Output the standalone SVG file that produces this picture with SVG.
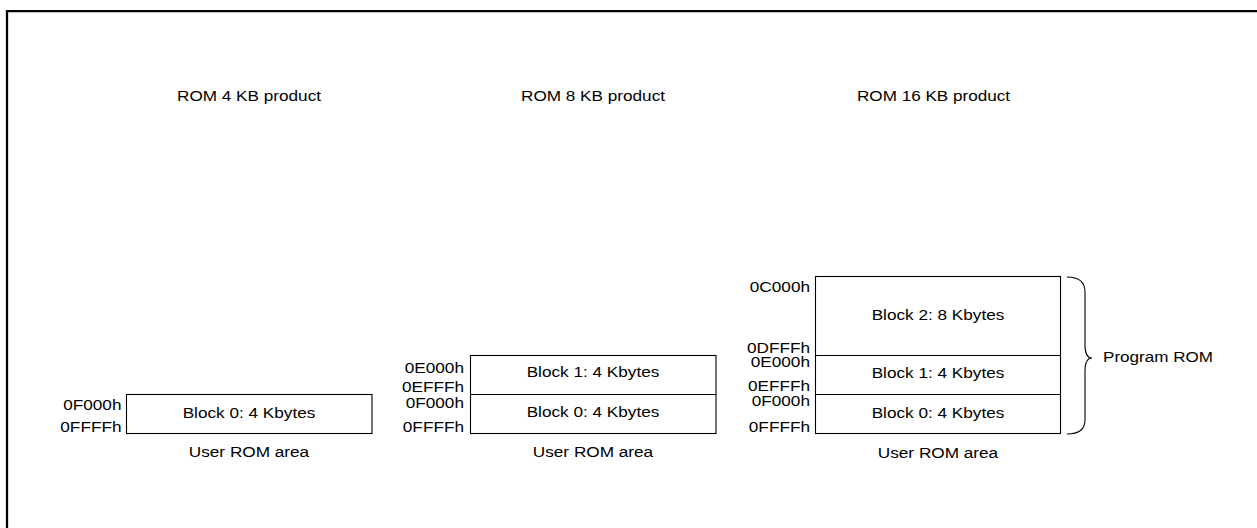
<svg xmlns="http://www.w3.org/2000/svg" width="1257" height="528" viewBox="0 0 1257 528">
<style>
text{font-family:"Liberation Sans",Arial,sans-serif;font-size:14px;fill:#000}
.c{text-anchor:middle}
.r{text-anchor:end}
.box{fill:#fff;stroke:#000;stroke-width:1.1}
.ln{fill:none;stroke:#000;stroke-width:1.1}
</style>
<rect width="1257" height="528" fill="#fff"/>
<path d="M7,528 L7,11.2 L1257,11.2" fill="none" stroke="#000" stroke-width="2.3"/>

<g id="title1"><text class="c" x="249" y="101" textLength="144" lengthAdjust="spacingAndGlyphs">ROM 4 KB product</text></g>
<g id="title2"><text class="c" x="593" y="101" textLength="144" lengthAdjust="spacingAndGlyphs">ROM 8 KB product</text></g>
<g id="title3"><text class="c" x="933.5" y="101" textLength="153" lengthAdjust="spacingAndGlyphs">ROM 16 KB product</text></g>

<g id="rom4">
<rect class="box" x="126.5" y="394.5" width="245.5" height="39"/>
<text class="c" x="249" y="417.5" textLength="132.7" lengthAdjust="spacingAndGlyphs">Block 0: 4 Kbytes</text>
<text class="r" x="121.5" y="410" textLength="58.3" lengthAdjust="spacingAndGlyphs">0F000h</text>
<text class="r" x="121.5" y="432" textLength="61.2" lengthAdjust="spacingAndGlyphs">0FFFFh</text>
<text class="c" x="249" y="457" textLength="120.4" lengthAdjust="spacingAndGlyphs">User ROM area</text>
</g>

<g id="rom8">
<rect class="box" x="470.5" y="355.5" width="245.5" height="78"/>
<line class="ln" x1="470.5" y1="394.5" x2="716" y2="394.5"/>
<text class="c" x="593" y="377" textLength="132.7" lengthAdjust="spacingAndGlyphs">Block 1: 4 Kbytes</text>
<text class="c" x="593" y="416.5" textLength="132.7" lengthAdjust="spacingAndGlyphs">Block 0: 4 Kbytes</text>
<text class="r" x="464" y="373" textLength="59.3" lengthAdjust="spacingAndGlyphs">0E000h</text>
<text class="r" x="464" y="392" textLength="62.1" lengthAdjust="spacingAndGlyphs">0EFFFh</text>
<text class="r" x="464" y="408" textLength="58.3" lengthAdjust="spacingAndGlyphs">0F000h</text>
<text class="r" x="464" y="432" textLength="61.2" lengthAdjust="spacingAndGlyphs">0FFFFh</text>
<text class="c" x="593" y="457" textLength="120.4" lengthAdjust="spacingAndGlyphs">User ROM area</text>
</g>

<g id="rom16">
<rect class="box" x="815.5" y="276.5" width="245" height="157"/>
<line class="ln" x1="815.5" y1="355.5" x2="1060.5" y2="355.5"/>
<line class="ln" x1="815.5" y1="394.5" x2="1060.5" y2="394.5"/>
<text class="c" x="938" y="320" textLength="132.7" lengthAdjust="spacingAndGlyphs">Block 2: 8 Kbytes</text>
<text class="c" x="938" y="378" textLength="132.7" lengthAdjust="spacingAndGlyphs">Block 1: 4 Kbytes</text>
<text class="c" x="938" y="418" textLength="132.7" lengthAdjust="spacingAndGlyphs">Block 0: 4 Kbytes</text>
<text class="r" x="810" y="292" textLength="60.2" lengthAdjust="spacingAndGlyphs">0C000h</text>
<text class="r" x="810" y="353" textLength="63.1" lengthAdjust="spacingAndGlyphs">0DFFFh</text>
<text class="r" x="810" y="367" textLength="59.3" lengthAdjust="spacingAndGlyphs">0E000h</text>
<text class="r" x="810" y="391" textLength="62.1" lengthAdjust="spacingAndGlyphs">0EFFFh</text>
<text class="r" x="810" y="406" textLength="58.3" lengthAdjust="spacingAndGlyphs">0F000h</text>
<text class="r" x="810" y="432" textLength="61.2" lengthAdjust="spacingAndGlyphs">0FFFFh</text>
<text class="c" x="938" y="458" textLength="120.4" lengthAdjust="spacingAndGlyphs">User ROM area</text>
</g>

<g id="connectors">
<path class="ln" d="M1067,277 Q1085,277 1085,292 L1085,345 Q1085,358 1092,358 Q1085,358 1085,371 L1085,420 Q1085,434 1067,434"/>
</g>
<g id="programrom"><text x="1103" y="362" textLength="110" lengthAdjust="spacingAndGlyphs">Program ROM</text></g>
</svg>
